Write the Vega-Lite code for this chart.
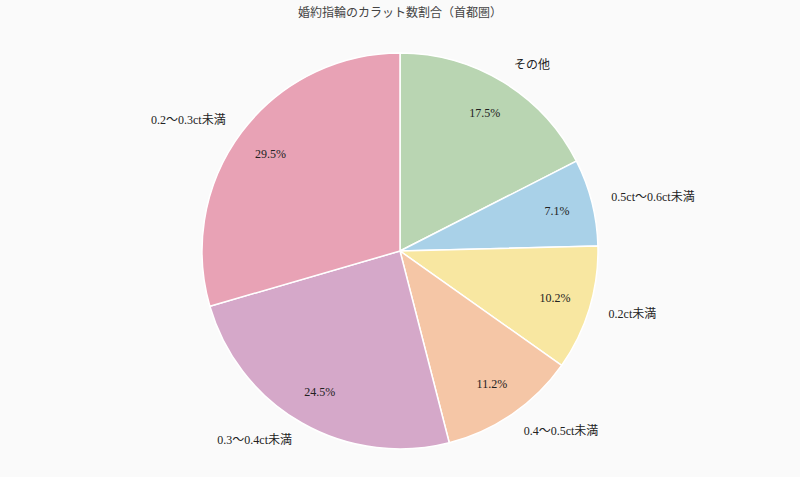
{
  "$schema": "https://vega.github.io/schema/vega-lite/v6.json",
  "width": 800,
  "height": 442,
  "autosize": "none",
  "padding": {"top": 30, "left": 0, "right": 0, "bottom": 5},
  "background": "#fafafa",
  "view": {"stroke": null},
  "title": {"text": "婚約指輪のカラット数割合（首都圏）", "fontSize": 12, "font": "Liberation Serif, Noto Sans CJK JP", "fontWeight": "normal", "color": "#444444", "offset": 10, "anchor": "middle"},
  "data": {
    "values": [
      {"no": 1, "category": "その他", "share": 0.175},
      {"no": 2, "category": "0.5ct〜0.6ct未満", "share": 0.071},
      {"no": 3, "category": "0.2ct未満", "share": 0.102},
      {"no": 4, "category": "0.4〜0.5ct未満", "share": 0.112},
      {"no": 5, "category": "0.3〜0.4ct未満", "share": 0.245},
      {"no": 6, "category": "0.2〜0.3ct未満", "share": 0.295}
    ]
  },
  "encoding": {
    "theta": {"field": "share", "type": "quantitative", "stack": true},
    "order": {"field": "no", "type": "quantitative"}
  },
  "layer": [
    {
      "mark": {"type": "arc", "radius": 198, "stroke": "#ffffff", "strokeWidth": 1.5},
      "encoding": {
        "color": {
          "field": "category",
          "type": "nominal",
          "legend": null,
          "scale": {
            "domain": ["その他", "0.5ct〜0.6ct未満", "0.2ct未満", "0.4〜0.5ct未満", "0.3〜0.4ct未満", "0.2〜0.3ct未満"],
            "range": ["#b9d5b2", "#a9d1e8", "#f8e7a1", "#f5c6a6", "#d5a8c9", "#e8a2b5"]
          }
        }
      }
    },
    {
      "mark": {"type": "text", "radius": 162, "fontSize": 12, "font": "Liberation Serif, Noto Sans CJK JP", "color": "#222222"},
      "encoding": {"text": {"field": "share", "type": "quantitative", "format": ".1%"}}
    },
    {
      "mark": {"type": "text", "radius": 218, "align": "left", "baseline": "middle", "fontSize": 12, "font": "Liberation Serif, Noto Sans CJK JP", "color": "#222222"},
      "encoding": {
        "text": {"condition": {"test": "indexof(['その他', '0.5ct〜0.6ct未満', '0.2ct未満', '0.4〜0.5ct未満'], datum.category) >= 0", "field": "category"}, "value": ""}
      }
    },
    {
      "mark": {"type": "text", "radius": 218, "align": "right", "baseline": "middle", "fontSize": 12, "font": "Liberation Serif, Noto Sans CJK JP", "color": "#222222"},
      "encoding": {
        "text": {"condition": {"test": "indexof(['0.3〜0.4ct未満', '0.2〜0.3ct未満'], datum.category) >= 0", "field": "category"}, "value": ""}
      }
    }
  ]
}
